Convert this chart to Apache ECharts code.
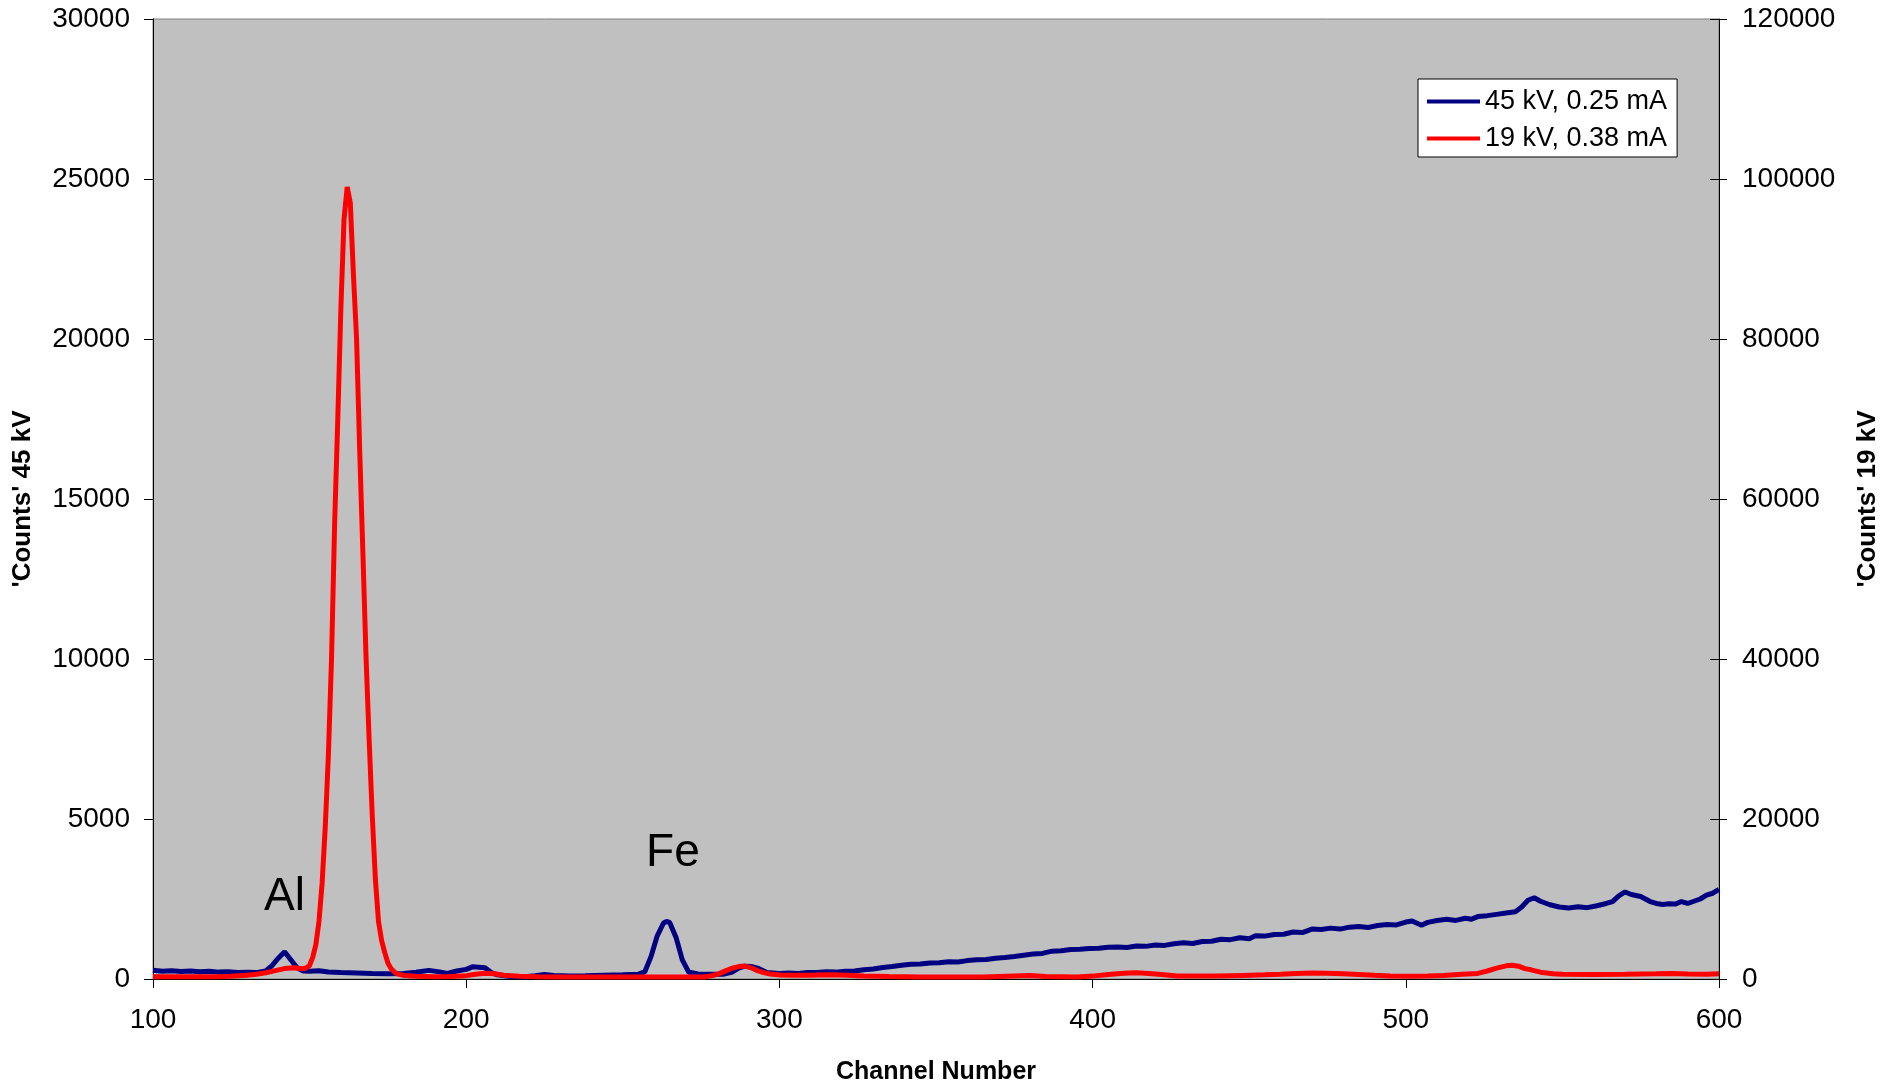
<!DOCTYPE html>
<html>
<head>
<meta charset="utf-8">
<script src="https://cdn.jsdelivr.net/npm/echarts@6/dist/echarts.min.js"></script>
<style>
html,body{margin:0;padding:0;background:#fff;overflow:hidden;}
#chart{width:1889px;height:1090px;}
</style>
</head>
<body>
<div id="chart"></div>
<script>
// ---- Data ----
const seriesNames = ['45 kV, 0.25 mA', '19 kV, 0.38 mA'];

const blueChannels = [100,103,106,109,112,115,118,121,124,127,130,133,136,138,140,142,144,146,148,150,153,156,160,165,170,175,180,184,188,191,194,197,200,202,204,206,208,210,214,218,222,225,228,233,238,244,250,255,257,259,261,263,264,265,267,269,271,274,278,282,285,287,289,291,293,296,
  300,303,306,309,312,315,318,321,324,327,330,333,336,339,342,345,348,351,354,357,360,363,366,369,372,375,378,381,384,387,390,393,396,399,402,405,408,411,414,417,420,423,426,429,432,435,438,441,444,447,450,452,455,458,461,464,467,470,473,476,479,482,485,488,491,494,497,500,502,505,507,510,513,516,519,521,523,526,529,532,535,537,539,541,543,546,549,552,555,558,561,564,566,568,570,572,575,578,580,582,584,586,588,590,592,594,596,598,600];
const blueCounts = [270,240,260,235,250,230,245,215,225,205,210,200,250,420,650,850,600,350,250,240,260,220,200,190,170,165,175,210,270,230,175,250,300,380,370,350,200,130,80,62,100,140,110,90,100,120,130,150,220,700,1350,1750,1800,1760,1300,600,220,160,150,150,220,340,400,390,340,200,
  170,185,175,205,200,225,215,240,250,290,310,360,390,430,460,470,500,510,540,530,575,600,610,650,670,700,740,780,800,870,880,920,930,955,960,990,1000,985,1030,1020,1060,1050,1100,1130,1110,1170,1180,1240,1230,1290,1260,1350,1340,1390,1400,1470,1450,1560,1550,1590,1560,1620,1640,1610,1670,1700,1690,1780,1810,1680,1770,1830,1870,1830,1900,1870,1950,1980,2020,2060,2100,2250,2460,2540,2430,2320,2250,2220,2260,2230,2290,2360,2420,2600,2720,2640,2580,2420,2360,2330,2350,2340,2420,2360,2430,2500,2620,2680,2800];

const redChannels = [100,110,120,125,130,133,136,139,142,145,147,148,149,150,151,152,153,154,155,156,157,158,159,160,161,162,163,164,165,166,167,168,169,170,171,172,173,174,175,176,177,178,180,184,190,195,200,203,206,209,212,217,223,230,240,250,260,270,276,279,281,283,285,287,289,291,293,295,297,300,305,310,315,320,327,335,345,355,365,375,380,385,395,400,405,410,414,418,422,427,433,440,448,455,460,465,470,475,480,485,490,495,501,507,512,518,523,526,529,532,534,536,538,540,543,547,550,560,570,580,585,590,596,600];
const redCounts = [280,270,290,340,460,600,780,1050,1300,1400,1320,1280,1400,1700,2700,4300,7200,12000,19000,28000,40000,57000,70000,84000,95000,99000,97000,88000,80000,66000,53500,40500,30000,20500,12500,7200,4800,3300,2000,1300,900,650,450,330,280,300,420,600,720,650,460,350,290,260,250,250,250,250,260,450,700,1050,1350,1550,1620,1400,1050,800,620,500,470,470,520,500,380,300,260,250,260,380,440,320,260,360,560,720,780,700,560,380,360,370,450,520,580,680,740,720,660,560,460,380,330,360,450,600,700,1000,1350,1650,1730,1600,1300,1150,850,650,580,560,600,660,700,640,580,650];

const xTicks = {min: 100, max: 600, interval: 100};
const leftTicks = {min: 0, max: 30000, interval: 5000};
const rightTicks = {min: 0, max: 120000, interval: 20000};

const peakLabels = ['Al', 'Fe'];
const peakChannels = [142, 266];
const peakLabelCounts = [2550, 3940];

// ---- Build ----
const FONT = "'Liberation Sans', Arial, Helvetica, sans-serif";
const pair = (xs, ys) => xs.map((x, i) => [x, ys[i]]);
const plain = v => String(v);

const chart = echarts.init(document.getElementById('chart'), null, {renderer: 'canvas'});

const option = {
  animation: false,
  backgroundColor: '#ffffff',
  textStyle: {fontFamily: FONT, color: '#000'},
  grid: {
    left: 153, right: 162, top: 19, bottom: 102,
    show: true, backgroundColor: '#C0C0C0', borderColor: '#808080', borderWidth: 1
  },
  legend: {
    orient: 'vertical',
    left: 1418, top: 79,
    padding: [9, 10, 5, 9],
    itemWidth: 53, itemHeight: 4, itemGap: 10,
    backgroundColor: '#ffffff', borderColor: '#000', borderWidth: 1,
    textStyle: {fontFamily: FONT, fontSize: 27, color: '#000'},
    data: [
      {name: seriesNames[0], icon: 'rect', itemStyle: {color: '#000080'}},
      {name: seriesNames[1], icon: 'rect', itemStyle: {color: '#FF0000'}}
    ]
  },
  xAxis: {
    type: 'value',
    min: xTicks.min, max: xTicks.max, interval: xTicks.interval,
    name: 'Channel Number', nameLocation: 'middle', nameGap: 81,
    nameTextStyle: {fontFamily: FONT, fontSize: 25, fontWeight: 'bold', color: '#000'},
    axisLine: {show: true, onZero: false, lineStyle: {color: '#000', width: 1}},
    axisTick: {show: true, inside: false, length: 9, lineStyle: {color: '#000'}},
    axisLabel: {fontFamily: FONT, fontSize: 28, color: '#000', margin: 27, formatter: plain},
    splitLine: {show: false}
  },
  yAxis: [
    {
      type: 'value', position: 'left',
      min: leftTicks.min, max: leftTicks.max, interval: leftTicks.interval,
      name: "'Counts' 45 kV", nameLocation: 'middle', nameGap: 117, nameRotate: 90,
      nameTextStyle: {fontFamily: FONT, fontSize: 26, fontWeight: 'bold', color: '#000'},
      axisLine: {show: true, lineStyle: {color: '#000', width: 1}},
      axisTick: {show: true, inside: false, length: 9, lineStyle: {color: '#000'}},
      axisLabel: {fontFamily: FONT, fontSize: 28, color: '#000', margin: 23, formatter: plain},
      splitLine: {show: false}
    },
    {
      type: 'value', position: 'right',
      min: rightTicks.min, max: rightTicks.max, interval: rightTicks.interval,
      name: "'Counts' 19 kV", nameLocation: 'middle', nameGap: 136, nameRotate: 90,
      nameTextStyle: {fontFamily: FONT, fontSize: 26, fontWeight: 'bold', color: '#000'},
      axisLine: {show: true, lineStyle: {color: '#000', width: 1}},
      axisTick: {show: true, inside: false, length: 8, lineStyle: {color: '#000'}},
      axisLabel: {fontFamily: FONT, fontSize: 28, color: '#000', margin: 23, formatter: plain},
      splitLine: {show: false}
    },
    {
      type: 'value', position: 'right',
      min: rightTicks.min, max: rightTicks.max, interval: rightTicks.interval,
      axisLine: {show: false},
      axisTick: {show: true, inside: true, length: 9, lineStyle: {color: '#000'}},
      axisLabel: {show: false},
      splitLine: {show: false}
    }
  ],
  series: [
    {
      name: seriesNames[0], type: 'line', yAxisIndex: 0,
      data: pair(blueChannels, blueCounts),
      showSymbol: false, symbol: 'none',
      lineStyle: {color: '#000080', width: 5},
      itemStyle: {color: '#000080'},
      z: 2,
      markPoint: {
        symbol: 'circle', symbolSize: 0,
        label: {show: true, position: 'inside', fontFamily: FONT, fontSize: 46, color: '#000',
                formatter: p => p.name},
        data: peakLabels.map((t, i) => ({name: t, coord: [peakChannels[i], peakLabelCounts[i]]}))
      }
    },
    {
      name: seriesNames[1], type: 'line', yAxisIndex: 1,
      data: pair(redChannels, redCounts),
      showSymbol: false, symbol: 'none',
      lineStyle: {color: '#FF0000', width: 5},
      itemStyle: {color: '#FF0000'},
      z: 3
    }
  ]
};
chart.setOption(option);
</script>
</body>
</html>
